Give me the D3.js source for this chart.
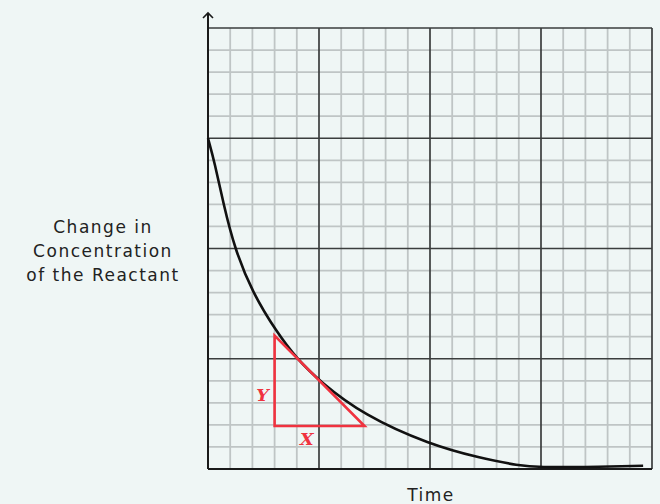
<!DOCTYPE html>
<html>
<head>
<meta charset="utf-8">
<script src="https://cdn.jsdelivr.net/npm/d3@7"></script>
<style>
  body { margin: 0; background: #eff6f5; }
  svg { display: block; }
</style>
</head>
<body>
<div id="chart"></div>
<script>
// curve, in grid squares (x: 0-20, y: 0-20)
var timeVals = [0, 0.3, 0.7, 1.2, 2.0, 3.1, 4.0, 5.05, 7.0, 10.0, 12.25, 14.0, 15.0, 16.8, 19.6];
var concVals = [15, 13.9, 12, 10, 8, 6.2, 5.0, 3.96, 2.45, 1.1, 0.5, 0.15, 0.08, 0.08, 0.15];

// tangent triangle (grid squares)
var triX = [3.0, 3.0, 7.05];
var triY = [6.05, 1.95, 1.95];

var yLabel = ["Change in", "Concentration", "of the Reactant"];
var xLabel = "Time";

var margin = { left: 208, right: 8, top: 28, bottom: 35 };
var width = 660 - margin.left - margin.right;
var height = 504 - margin.top - margin.bottom;

var svg = d3.select("#chart").append("svg")
    .attr("width", 660)
    .attr("height", 504);

var g = svg.append("g")
    .attr("transform", "translate(" + margin.left + "," + margin.top + ")");

var x = d3.scaleLinear().domain([0, 20]).range([0, width]);
var y = d3.scaleLinear().domain([0, 20]).range([height, 0]);

// minor grid
var minor = d3.range(1, 20).filter(function(d) { return d % 5 != 0; });
g.selectAll(".vminor").data(minor).enter().append("line")
    .attr("x1", function(d) { return x(d); })
    .attr("x2", function(d) { return x(d); })
    .attr("y1", 0).attr("y2", height)
    .attr("stroke", "#bfc5c5").attr("stroke-width", 1.8);
g.selectAll(".hminor").data(minor).enter().append("line")
    .attr("y1", function(d) { return y(d); })
    .attr("y2", function(d) { return y(d); })
    .attr("x1", 0).attr("x2", width)
    .attr("stroke", "#bfc5c5").attr("stroke-width", 1.8);

// major grid
var major = [5, 10, 15, 20];
g.selectAll(".vmajor").data(major).enter().append("line")
    .attr("x1", function(d) { return x(d); })
    .attr("x2", function(d) { return x(d); })
    .attr("y1", 0).attr("y2", height)
    .attr("stroke", "#3a3d3d").attr("stroke-width", 1.7);
g.selectAll(".hmajor").data(major).enter().append("line")
    .attr("y1", function(d) { return y(d); })
    .attr("y2", function(d) { return y(d); })
    .attr("x1", 0).attr("x2", width)
    .attr("stroke", "#3a3d3d").attr("stroke-width", 1.7);

// axes
g.append("line")
    .attr("x1", 0).attr("x2", 0)
    .attr("y1", height).attr("y2", -15)
    .attr("stroke", "#1a1a1a").attr("stroke-width", 2);
g.append("path")
    .attr("d", "M-5,-10 L0,-15 L5,-10")
    .attr("fill", "none").attr("stroke", "#1a1a1a").attr("stroke-width", 1.6);
g.append("line")
    .attr("x1", 0).attr("x2", width)
    .attr("y1", height).attr("y2", height)
    .attr("stroke", "#1a1a1a").attr("stroke-width", 2);

// curve
var pts = timeVals.map(function(t, i) { return [t, concVals[i]]; });
var line = d3.line()
    .x(function(d) { return x(d[0]); })
    .y(function(d) { return y(d[1]); })
    .curve(d3.curveBasis);
g.append("path")
    .attr("d", line(pts))
    .attr("fill", "none")
    .attr("stroke", "#111")
    .attr("stroke-width", 2.6);

// triangle
var tri = triX.map(function(t, i) { return [t, triY[i]]; });
g.append("path")
    .attr("d", d3.line().x(function(d) { return x(d[0]); }).y(function(d) { return y(d[1]); })(tri) + "Z")
    .attr("fill", "none")
    .attr("stroke", "#f0323f")
    .attr("stroke-width", 2.6)
    .attr("stroke-linejoin", "miter");

g.append("text")
    .attr("x", x(triX[0]) - 12)
    .attr("y", y(triY[1]) - 25)
    .attr("text-anchor", "middle")
    .attr("font-family", "DejaVu Serif, serif")
    .attr("font-style", "italic")
    .attr("font-weight", "bold")
    .attr("font-size", "17.5px")
    .style("fill", "#f0323f")
    .text("Y");
g.append("text")
    .attr("x", x(4.45))
    .attr("y", y(triY[1]) + 19)
    .attr("text-anchor", "middle")
    .attr("font-family", "DejaVu Serif, serif")
    .attr("font-style", "italic")
    .attr("font-weight", "bold")
    .attr("font-size", "17.5px")
    .style("fill", "#f0323f")
    .text("X");

// labels
svg.append("text")
    .attr("x", 103)
    .attr("y", 233)
    .attr("text-anchor", "middle")
    .attr("font-family", "DejaVu Sans, sans-serif")
    .attr("font-size", "17px")
    .attr("letter-spacing", "1.5px")
    .style("fill", "#222")
    .selectAll("tspan").data(yLabel).enter().append("tspan")
    .attr("x", 103)
    .attr("dy", function(d, i) { return i == 0 ? 0 : 24; })
    .text(function(d) { return d; });

svg.append("text")
    .attr("x", margin.left + x(10) + 1)
    .attr("y", 501)
    .attr("text-anchor", "middle")
    .attr("font-family", "DejaVu Sans, sans-serif")
    .attr("font-size", "17px")
    .attr("letter-spacing", "1.5px")
    .style("fill", "#222")
    .text(xLabel);
</script>
</body>
</html>
